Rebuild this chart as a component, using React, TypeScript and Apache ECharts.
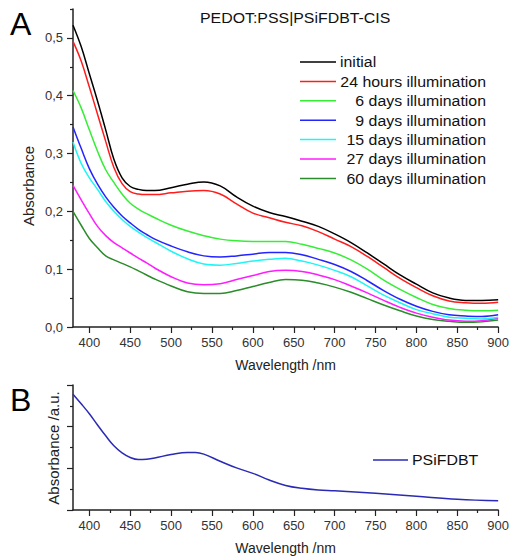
import React, { useEffect, useRef } from "react";
import * as echarts from "echarts";

// ---------- Data (panel A) ----------
const wavelengths = [380, 390, 400, 410, 420, 430, 440, 450, 460, 470, 480, 500, 520, 540, 560, 580, 600, 620, 640, 660, 680, 700, 720, 740, 760, 780, 800, 820, 840, 860, 880, 900];

const seriesNames = [
  "initial",
  "24 hours illumination",
  "6 days illumination",
  "9 days illumination",
  "15 days illumination",
  "27 days illumination",
  "60 days illumination",
];

const initialVals = [0.522, 0.485, 0.438, 0.391, 0.341, 0.29, 0.258, 0.243, 0.238, 0.236, 0.236, 0.241, 0.247, 0.251, 0.244, 0.225, 0.209, 0.198, 0.191, 0.183, 0.174, 0.161, 0.146, 0.128, 0.109, 0.09, 0.074, 0.059, 0.05, 0.046, 0.046, 0.047];
const h24Vals = [0.494, 0.46, 0.415, 0.368, 0.321, 0.276, 0.248, 0.234, 0.23, 0.229, 0.229, 0.232, 0.235, 0.236, 0.23, 0.213, 0.197, 0.189, 0.181, 0.175, 0.165, 0.152, 0.139, 0.122, 0.103, 0.084, 0.068, 0.054, 0.045, 0.042, 0.041, 0.043];
const d6Vals = [0.409, 0.379, 0.341, 0.304, 0.272, 0.25, 0.23, 0.214, 0.204, 0.196, 0.189, 0.176, 0.166, 0.158, 0.152, 0.149, 0.148, 0.148, 0.148, 0.143, 0.136, 0.128, 0.116, 0.1, 0.081, 0.065, 0.051, 0.039, 0.032, 0.029, 0.028, 0.029];
const d9Vals = [0.346, 0.309, 0.274, 0.247, 0.225, 0.207, 0.192, 0.18, 0.169, 0.16, 0.152, 0.14, 0.13, 0.123, 0.121, 0.123, 0.126, 0.129, 0.129, 0.125, 0.117, 0.108, 0.096, 0.08, 0.063, 0.048, 0.036, 0.027, 0.021, 0.019, 0.018, 0.021];
const d15Vals = [0.32, 0.283, 0.258, 0.238, 0.217, 0.2, 0.186, 0.174, 0.164, 0.155, 0.147, 0.131, 0.118, 0.109, 0.107, 0.11, 0.114, 0.117, 0.119, 0.114, 0.107, 0.098, 0.087, 0.071, 0.055, 0.042, 0.03, 0.023, 0.017, 0.015, 0.014, 0.017];
const d27Vals = [0.245, 0.22, 0.196, 0.174, 0.158, 0.146, 0.137, 0.128, 0.119, 0.111, 0.102, 0.087, 0.076, 0.073, 0.075, 0.082, 0.089, 0.096, 0.098, 0.096, 0.09, 0.082, 0.071, 0.059, 0.046, 0.034, 0.024, 0.017, 0.012, 0.01, 0.011, 0.015];
const d60Vals = [0.2, 0.176, 0.153, 0.137, 0.123, 0.116, 0.11, 0.104, 0.097, 0.09, 0.083, 0.071, 0.061, 0.058, 0.058, 0.063, 0.07, 0.077, 0.082, 0.081, 0.076, 0.069, 0.06, 0.049, 0.038, 0.028, 0.019, 0.013, 0.01, 0.008, 0.009, 0.012];

const seriesValues = [initialVals, h24Vals, d6Vals, d9Vals, d15Vals, d27Vals, d60Vals];
const seriesColors = ["#000000", "#ff1c1c", "#35ee35", "#2424ff", "#1ef5f5", "#ff1cff", "#2a8c2a"];

// ---------- Data (panel B) ----------
const wavelengthsB = [380, 390, 400, 410, 420, 430, 440, 450, 460, 470, 480, 500, 520, 530, 540, 560, 580, 600, 620, 640, 660, 680, 700, 750, 800, 850, 900];
const psifdbtVals = [2.78, 2.55, 2.31, 2.04, 1.78, 1.54, 1.37, 1.26, 1.21, 1.22, 1.25, 1.33, 1.38, 1.38, 1.34, 1.17, 1.01, 0.88, 0.72, 0.59, 0.52, 0.48, 0.46, 0.4, 0.33, 0.26, 0.22];
const seriesNameB = "PSiFDBT";
const colorB = "#2a2ab5";

// ---------- Ticks ----------
const xMajorTicks = [400, 450, 500, 550, 600, 650, 700, 750, 800, 850, 900];
const xMinorTicks = [425, 475, 525, 575, 625, 675, 725, 775, 825, 875];
const yMajorTicksA = [0, 0.1, 0.2, 0.3, 0.4, 0.5];
const yMinorTicksA = [0.05, 0.15, 0.25, 0.35, 0.45, 0.55];

const FONT = "'Liberation Sans', Arial, sans-serif";
const AXIS_COLOR = "#222";

export default function App() {
  const ref = useRef<HTMLDivElement>(null);

  useEffect(() => {
    if (!ref.current) return;
    const chart = echarts.init(ref.current, undefined, { renderer: "svg" });

    const axisLine = { show: true, lineStyle: { color: AXIS_COLOR, width: 1.5 } };
    const labelStyle = { color: "#333", fontSize: 13, fontFamily: FONT };

    const xMain = (gridIndex: number, name: string) => ({
      type: "value",
      gridIndex,
      min: 380,
      max: 900,
      name,
      nameLocation: "middle",
      nameGap: 31,
      nameTextStyle: { color: AXIS_COLOR, fontSize: 14, fontFamily: FONT },
      axisLine,
      axisTick: { show: true, length: 6, customValues: xMajorTicks, lineStyle: { color: AXIS_COLOR, width: 1.2 } },
      axisLabel: { ...labelStyle, margin: 9, customValues: xMajorTicks },
      splitLine: { show: false },
    });
    const xMinor = (gridIndex: number) => ({
      type: "value",
      gridIndex,
      min: 380,
      max: 900,
      position: "bottom",
      axisLine: { show: false },
      axisTick: { show: true, length: 3, customValues: xMinorTicks, lineStyle: { color: AXIS_COLOR, width: 1.2 } },
      axisLabel: { show: false },
      splitLine: { show: false },
    });

    const lineSeries = seriesNames.map((name, i) => ({
      name,
      type: "line",
      xAxisIndex: 0,
      yAxisIndex: 0,
      data: wavelengths.map((w, j) => [w, seriesValues[i][j]]),
      showSymbol: false,
      smooth: 0.4,
      lineStyle: { color: seriesColors[i], width: 1.5 },
      itemStyle: { color: seriesColors[i] },
      z: 10 - i,
    }));

    const textScale = 1.06;
    const legendGraphics: any[] = [];
    seriesNames.forEach((name, i) => {
      const y = 62 + i * 19.4;
      legendGraphics.push({
        type: "line",
        shape: { x1: 300, y1: y, x2: 336, y2: y },
        style: { stroke: seriesColors[i], lineWidth: 1.5 },
      });
      const isInitial = i === 0;
      legendGraphics.push({
        type: "text",
        x: isInitial ? 340 : 486,
        y,
        scaleX: textScale,
        style: {
          text: name,
          align: isInitial ? "left" : "right",
          verticalAlign: "middle",
          fontSize: 15,
          fontFamily: FONT,
          fill: "#111",
        },
      });
    });

    const option: any = {
      animation: false,
      backgroundColor: "#ffffff",
      grid: [
        { left: 73, top: 9, width: 429, height: 318 },
        { left: 73, top: 385, width: 429, height: 125 },
      ],
      xAxis: [xMain(0, "Wavelength /nm"), xMinor(0), xMain(1, "Wavelength /nm"), xMinor(1)],
      yAxis: [
        {
          type: "value",
          gridIndex: 0,
          min: 0,
          max: 0.55,
          position: "left",
          axisLine,
          axisTick: { show: true, length: 6, customValues: yMajorTicksA, lineStyle: { color: AXIS_COLOR, width: 1.2 } },
          axisLabel: {
            ...labelStyle,
            margin: 10,
            customValues: yMajorTicksA,
            formatter: (v: number) => v.toFixed(1).replace(".", ","),
          },
          splitLine: { show: false },
        },
        {
          type: "value",
          gridIndex: 0,
          min: 0,
          max: 0.55,
          position: "left",
          axisLine: { show: false },
          axisTick: { show: true, length: 3, customValues: yMinorTicksA, lineStyle: { color: AXIS_COLOR, width: 1.2 } },
          axisLabel: { show: false },
          splitLine: { show: false },
        },
        {
          type: "value",
          gridIndex: 1,
          min: 0,
          max: 3,
          interval: 1,
          position: "left",
          axisLine,
          axisTick: { show: true, length: 6, lineStyle: { color: AXIS_COLOR, width: 1.2 } },
          minorTick: { show: true, splitNumber: 2, length: 3, lineStyle: { color: AXIS_COLOR, width: 1.2 } },
          axisLabel: { show: false },
          splitLine: { show: false },
        },
      ],
      series: [
        ...lineSeries,
        {
          name: seriesNameB,
          type: "line",
          xAxisIndex: 2,
          yAxisIndex: 2,
          data: wavelengthsB.map((w, j) => [w, psifdbtVals[j]]),
          showSymbol: false,
          smooth: 0.4,
          lineStyle: { color: colorB, width: 1.5 },
          itemStyle: { color: colorB },
        },
      ],
      graphic: [
        { type: "text", x: 10, y: 24, style: { text: "A", fontSize: 32, fontFamily: FONT, fill: "#000", align: "left", verticalAlign: "middle" } },
        { type: "text", x: 10, y: 400, style: { text: "B", fontSize: 32, fontFamily: FONT, fill: "#000", align: "left", verticalAlign: "middle" } },
        { type: "text", x: 200, y: 18, scaleX: textScale, style: { text: "PEDOT:PSS|PSiFDBT-CIS", fontSize: 15, fontFamily: FONT, fill: "#111", align: "left", verticalAlign: "middle" } },
        { type: "text", x: 28, y: 186, rotation: Math.PI / 2, style: { text: "Absorbance", fontSize: 15, fontFamily: FONT, fill: AXIS_COLOR, align: "center", verticalAlign: "middle" } },
        { type: "text", x: 53, y: 448, rotation: Math.PI / 2, style: { text: "Absorbance /a.u.", fontSize: 15, fontFamily: FONT, fill: AXIS_COLOR, align: "center", verticalAlign: "middle" } },
        ...legendGraphics,
        { type: "line", shape: { x1: 373, y1: 460, x2: 408, y2: 460 }, style: { stroke: colorB, lineWidth: 1.5 } },
        { type: "text", x: 412, y: 460, scaleX: textScale, style: { text: seriesNameB, fontSize: 15, fontFamily: FONT, fill: "#111", align: "left", verticalAlign: "middle" } },
      ],
    };

    chart.setOption(option);
    return () => chart.dispose();
  }, []);

  return (
    <div
      ref={ref}
      style={{ position: "fixed", left: 0, top: 0, width: 512, height: 560, background: "#fff" }}
    />
  );
}
